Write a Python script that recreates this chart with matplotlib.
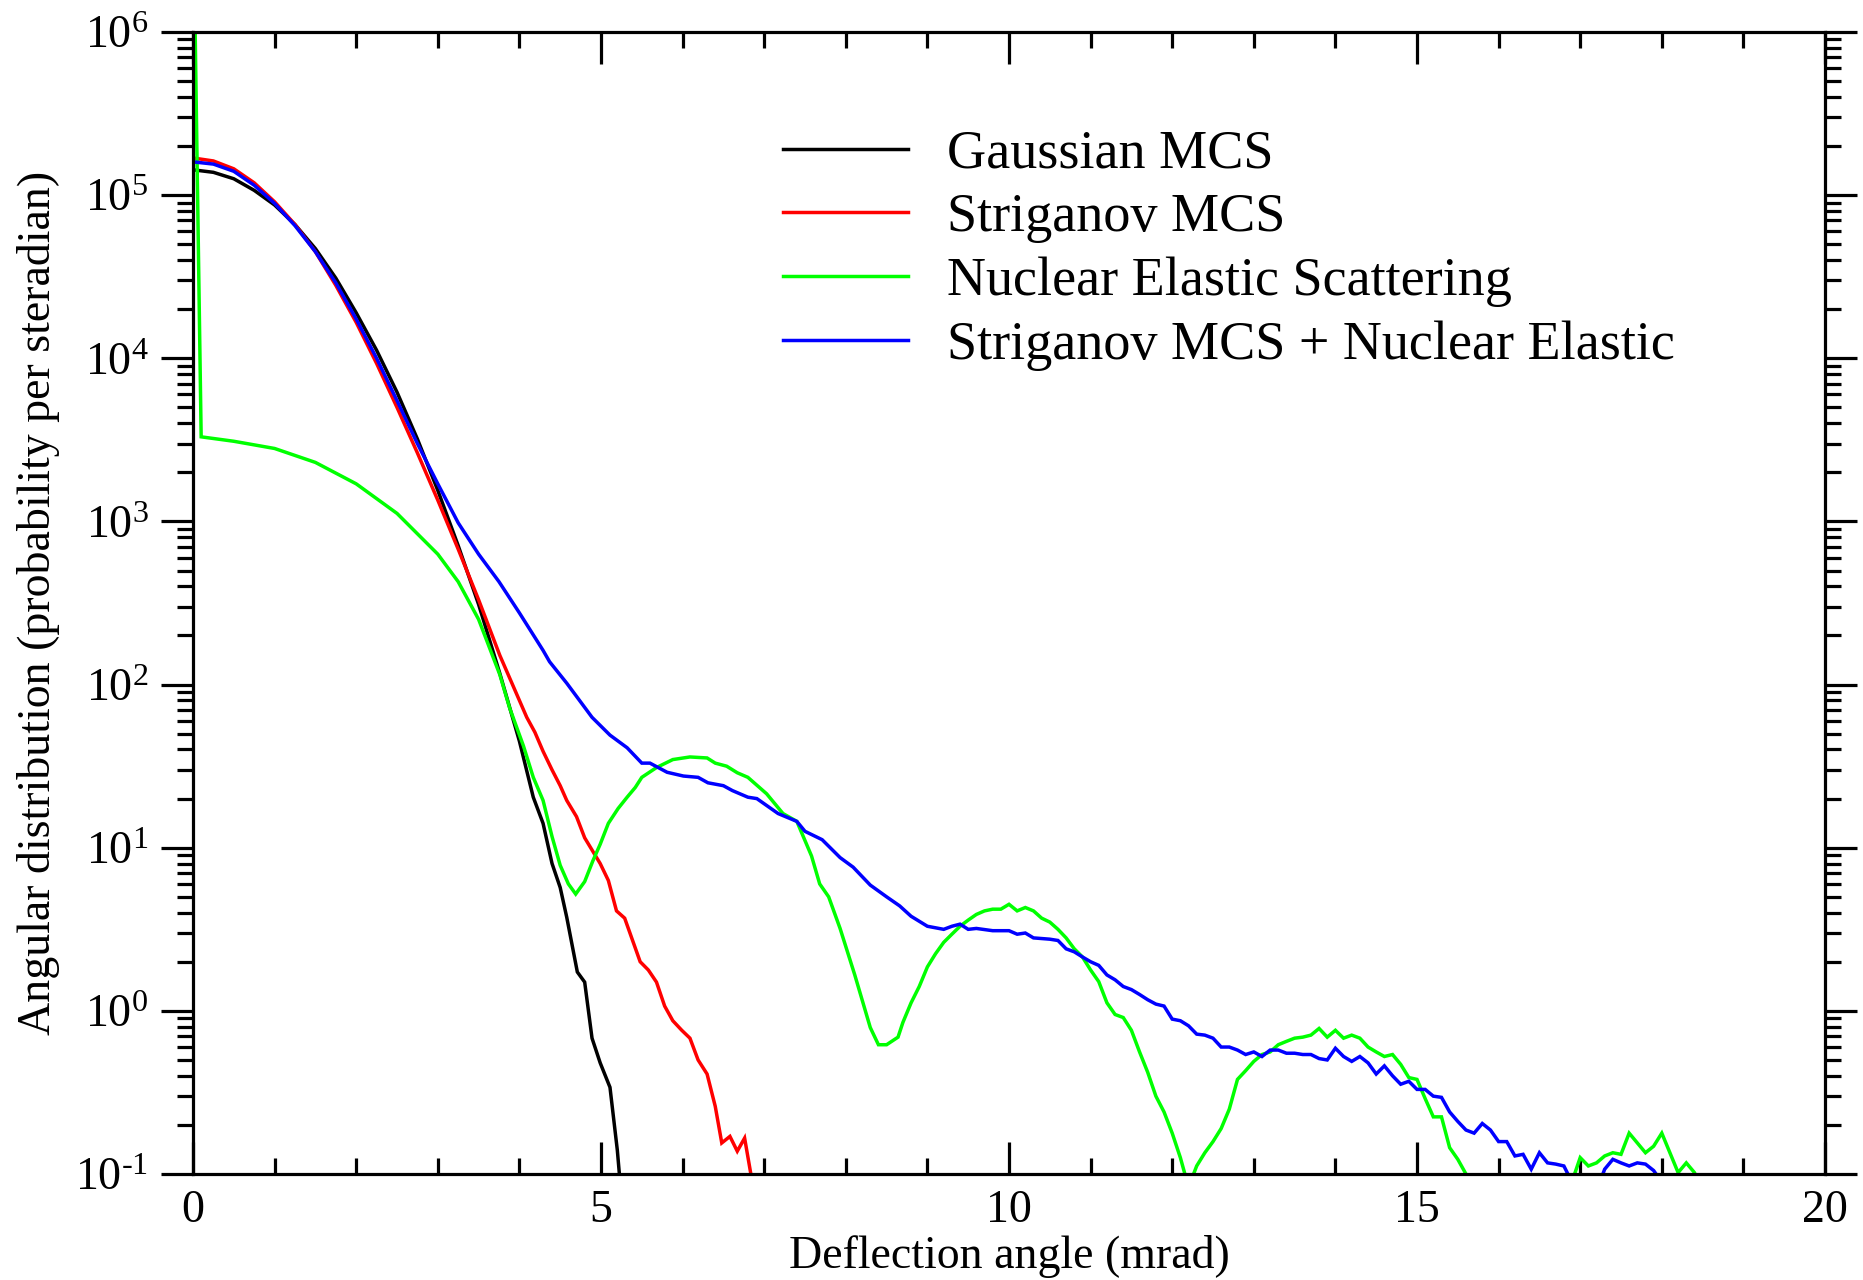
import matplotlib
matplotlib.use("Agg")
import matplotlib.pyplot as plt
from matplotlib.ticker import MultipleLocator, LogLocator, NullFormatter, FuncFormatter
import numpy as np

plt.rcParams['font.family'] = ['Liberation Serif', 'DejaVu Serif']
plt.rcParams['mathtext.fontset'] = 'custom'
plt.rcParams['mathtext.rm'] = 'Liberation Serif'
plt.rcParams['mathtext.it'] = 'Liberation Serif:italic'

# Gaussian MCS
gauss_x = [0, 0.25, 0.5, 0.75, 1.0, 1.25, 1.5, 1.75, 2.0, 2.25, 2.5, 2.75, 3.0, 3.25, 3.5,
           3.76, 4.0, 4.17, 4.29, 4.4, 4.5, 4.58, 4.71, 4.8, 4.89, 4.99, 5.11, 5.2, 5.26]
gauss_y = [1.43e5, 1.38e5, 1.26e5, 1.07e5, 8.7e4, 6.6e4, 4.7e4, 3.1e4, 1.9e4, 1.12e4,
           6.2e3, 3.2e3, 1.55e3, 710, 310, 117, 45, 20.4, 14.1, 8.0,
           5.7, 3.75, 1.73, 1.50, 0.68, 0.48, 0.34, 0.14, 0.063]

# Striganov MCS
strig_x = [0, 0.25, 0.5, 0.75, 1.0, 1.25, 1.5, 1.75, 2.0, 2.25, 2.5, 2.75, 3.0, 3.25, 3.5,
           3.76, 4.09, 4.19, 4.29, 4.4, 4.5, 4.58, 4.7, 4.8, 4.99, 5.09, 5.19, 5.29, 5.48, 5.58,
           5.68, 5.78, 5.88, 5.99, 6.09, 6.19, 6.3, 6.4, 6.48, 6.58, 6.67, 6.76, 6.87]
strig_y = [1.69e5, 1.62e5, 1.45e5, 1.19e5, 9.1e4, 6.6e4, 4.5e4, 2.8e4, 1.66e4, 9.3e3,
           5.0e3, 2.63e3, 1.35e3, 676, 331, 151, 63, 51, 39, 30,
           24, 19.5, 15.5, 11.5, 8.0, 6.3, 4.1, 3.7, 2.0, 1.78,
           1.5, 1.07, 0.87, 0.76, 0.68, 0.50, 0.41, 0.26, 0.155, 0.17,
           0.138, 0.166, 0.08]

# Nuclear elastic scattering
nes_x = [0, 0.1, 0.5, 1.0, 1.5, 2.0, 2.5, 3.0, 3.25, 3.5,
         3.76, 3.88, 4.05, 4.17, 4.29, 4.4, 4.5, 4.6, 4.69, 4.8,
         4.9, 4.99, 5.09, 5.21, 5.32, 5.42, 5.5, 5.68, 5.88, 6.09,
         6.3, 6.4, 6.54, 6.67, 6.8, 7.03, 7.23, 7.4, 7.58, 7.68,
         7.79, 7.93, 8.11, 8.21, 8.3, 8.4, 8.5, 8.64,
         8.7, 8.8, 8.9, 9.0, 9.1, 9.2, 9.3, 9.4, 9.5, 9.6,
         9.7, 9.8, 9.9, 10.0, 10.1, 10.2, 10.3, 10.4, 10.5, 10.6,
         10.7, 10.8, 10.9, 11.0, 11.1, 11.2, 11.3, 11.4, 11.5, 11.6,
         11.7, 11.8, 11.9, 12.0, 12.1, 12.2, 12.3, 12.4, 12.5, 12.6,
         12.7, 12.8, 12.9, 13.0, 13.1, 13.2, 13.3, 13.4, 13.5, 13.6,
         13.7, 13.8, 13.9, 14.0, 14.1, 14.2, 14.3, 14.4, 14.5, 14.6,
         14.7, 14.8, 14.9, 15.0, 15.1, 15.2, 15.3, 15.4, 15.5, 15.6,
         15.7, 16.3, 16.9,
         17.0, 17.1, 17.2, 17.3, 17.4, 17.5, 17.6, 17.7, 17.8, 17.9,
         18.0, 18.1, 18.2, 18.3, 18.4, 18.5]
nes_y = [8e6, 3.3e3, 3.1e3, 2.8e3, 2.3e3, 1.7e3, 1.12e3, 630, 427, 251,
         115, 72, 42, 27, 19.5, 11.7, 7.8, 6.0, 5.2, 6.2,
         8.3, 10.5, 14.1, 17.4, 20.4, 23.4, 27, 31, 34.7, 36,
         35.5, 33, 31.6, 28.8, 27, 21.4, 16.2, 14.5, 8.9, 6.0,
         5.0, 3.2, 1.66, 1.12, 0.79, 0.62, 0.62, 0.69,
         0.85, 1.12, 1.41, 1.86, 2.24, 2.63, 2.95, 3.3, 3.6, 3.9,
         4.1, 4.2, 4.2, 4.5, 4.1, 4.3, 4.1, 3.7, 3.5, 3.16,
         2.8, 2.4, 2.14, 1.78, 1.51, 1.12, 0.95, 0.91, 0.76, 0.56,
         0.42, 0.30, 0.24, 0.178, 0.126, 0.083, 0.112, 0.135, 0.158, 0.19,
         0.25, 0.38, 0.43, 0.49, 0.54, 0.56, 0.62, 0.65, 0.68, 0.69,
         0.71, 0.78, 0.69, 0.76, 0.68, 0.71, 0.68, 0.60, 0.56, 0.525,
         0.54, 0.47, 0.39, 0.38, 0.29, 0.224, 0.224, 0.145, 0.123, 0.10,
         0.07, 0.06, 0.09,
         0.126, 0.112, 0.117, 0.129, 0.135, 0.132, 0.178, 0.155, 0.135, 0.148,
         0.178, 0.135, 0.102, 0.117, 0.102, 0.08]

# Striganov MCS + nuclear elastic
total_x = [0, 0.25, 0.5, 0.75, 1.0, 1.25, 1.5, 1.75, 2.0, 2.25, 2.5, 2.75, 3.0, 3.25, 3.5,
           3.75, 4.0,
           4.29, 4.37, 4.58, 4.89, 5.11, 5.32, 5.5, 5.6, 5.81, 6.01,
           6.19, 6.31, 6.5, 6.61, 6.8, 6.91, 7.17, 7.4, 7.5, 7.71,
           7.93, 8.09, 8.3, 8.5, 8.66,
           8.8, 9.0, 9.2, 9.3, 9.4, 9.5, 9.6, 9.8, 10.0, 10.1, 10.2, 10.3, 10.5, 10.6,
           10.7, 10.8, 10.9, 11.0, 11.1, 11.2, 11.3, 11.4, 11.5, 11.6,
           11.7, 11.8, 11.9, 12.0, 12.1, 12.2, 12.3, 12.4, 12.5, 12.6,
           12.7, 12.8, 12.9, 13.0, 13.1, 13.2, 13.3, 13.4, 13.5, 13.6,
           13.7, 13.8, 13.9, 14.0, 14.1, 14.2, 14.3, 14.4, 14.5, 14.6,
           14.7, 14.8, 14.9, 15.0, 15.1, 15.2, 15.3, 15.4, 15.5, 15.6,
           15.7, 15.8, 15.9, 16.0, 16.1, 16.2, 16.3, 16.4, 16.5, 16.6,
           16.7, 16.8, 16.9, 17.0, 17.1, 17.2, 17.3, 17.4, 17.5, 17.6,
           17.7, 17.8, 17.9, 18.0, 18.1]
total_y = [1.60e5, 1.55e5, 1.40e5, 1.15e5, 8.9e4, 6.5e4, 4.5e4, 2.9e4, 1.74e4, 1.0e4,
           5.5e3, 3.0e3, 1.7e3, 980, 630, 427, 275,
           162, 138, 102, 63, 49, 41, 33, 33, 29, 27.5,
           27, 25, 24, 22.4, 20.4, 20, 16.2, 14.5, 12.6, 11.2,
           8.7, 7.6, 5.9, 5.0, 4.4,
           3.8, 3.3, 3.16, 3.3, 3.4, 3.16, 3.2, 3.1, 3.1, 2.95, 3.0, 2.8, 2.75, 2.7,
           2.4, 2.3, 2.14, 2.0, 1.9, 1.66, 1.55, 1.41, 1.35, 1.26,
           1.17, 1.10, 1.07, 0.89, 0.87, 0.81, 0.72, 0.71, 0.68, 0.60,
           0.60, 0.575, 0.54, 0.56, 0.525, 0.575, 0.575, 0.55, 0.55, 0.54,
           0.54, 0.51, 0.50, 0.59, 0.525, 0.49, 0.525, 0.48, 0.41, 0.46,
           0.40, 0.355, 0.37, 0.33, 0.33, 0.30, 0.295, 0.24, 0.21, 0.186,
           0.178, 0.204, 0.186, 0.158, 0.158, 0.129, 0.132, 0.107, 0.135, 0.117,
           0.115, 0.112, 0.089, 0.071, 0.063, 0.079, 0.107, 0.123, 0.117, 0.112,
           0.117, 0.115, 0.105, 0.089, 0.063]

series = [
    (gauss_x, gauss_y, '#000000', 'Gaussian MCS'),
    (strig_x, strig_y, '#ff0000', 'Striganov MCS'),
    (nes_x, nes_y, '#00ff00', 'Nuclear Elastic Scattering'),
    (total_x, total_y, '#0000ff', 'Striganov MCS + Nuclear Elastic'),
]


def decade_label(val, pos):
    # "10" with a plain hyphen in negative exponents
    e = int(round(np.log10(val)))
    if e < 0:
        return r'$10^{\text{-}%d}$' % (-e)
    return r'$10^{%d}$' % e


fig = plt.figure(figsize=(18.63, 12.8), dpi=100)
ax = fig.add_axes([193 / 1863, 1 - 1174 / 1280, 1632 / 1863, 1142 / 1280])

for xs, ys, col, lab in series:
    ax.plot(xs, ys, color=col, lw=2.5, label=lab, solid_joinstyle='miter')

ax.set_yscale('log')
ax.set_xlim(0, 20)
ax.set_ylim(0.1, 1e6)

for s in ax.spines.values():
    s.set_linewidth(2.3)

ax.xaxis.set_major_locator(MultipleLocator(5))
ax.xaxis.set_minor_locator(MultipleLocator(1))
ax.yaxis.set_major_locator(LogLocator(base=10, numticks=20))
ax.yaxis.set_minor_locator(LogLocator(base=10, subs=range(2, 10), numticks=20))
ax.yaxis.set_major_formatter(FuncFormatter(decade_label))
ax.yaxis.set_minor_formatter(NullFormatter())

ax.tick_params(axis='x', which='both', direction='in', top=True, bottom=True,
               width=2.3, labelsize=33, pad=11)
ax.tick_params(axis='x', which='major', length=23)
ax.tick_params(axis='x', which='minor', length=11.5)
ax.tick_params(axis='y', which='both', direction='out', left=True, right=True,
               width=2.3, labelsize=33, pad=9)
ax.tick_params(axis='y', which='major', length=23)
ax.tick_params(axis='y', which='minor', length=11.5)

ax.set_xlabel('Deflection angle (mrad)', fontsize=33, labelpad=2)
ax.set_ylabel('Angular distribution (probability per steradian)', fontsize=33, labelpad=11)

leg = ax.legend(loc='upper left', bbox_to_anchor=(783 / 1863, 1 - 129 / 1280),
                bbox_transform=fig.transFigure, frameon=False, fontsize=39,
                handlelength=2.3, handletextpad=0.72, labelspacing=0.245,
                borderpad=0, borderaxespad=0)
for h in leg.get_lines():
    h.set_linewidth(2.5)

fig.savefig('out.png', dpi=100)
